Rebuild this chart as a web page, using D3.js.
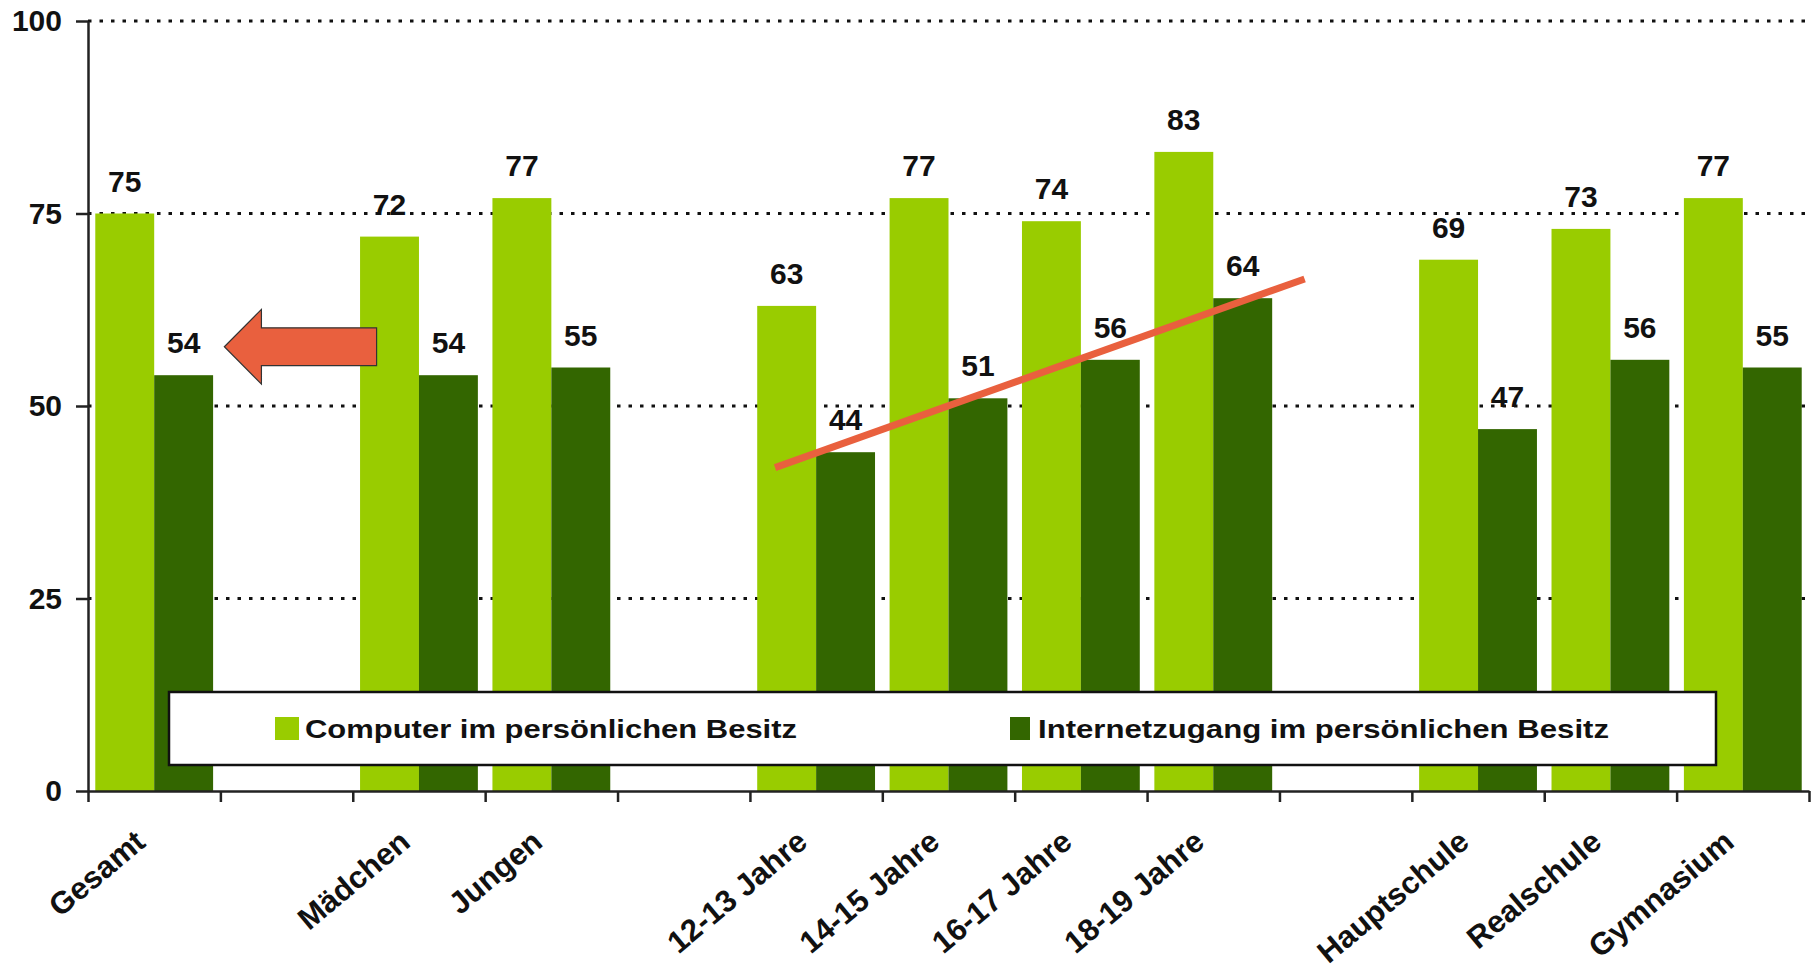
<!DOCTYPE html>
<html>
<head>
<meta charset="utf-8">
<script src="https://cdn.jsdelivr.net/npm/d3@7"></script>
<style>
  body { margin: 0; background: #fff; }
  text { font-family: "Liberation Sans", Arial, sans-serif; font-weight: bold; fill: #111; }
</style>
</head>
<body>
<div id="chart"></div>
<script>
var categories = ["Gesamt", "Mädchen", "Jungen", "12-13 Jahre", "14-15 Jahre", "16-17 Jahre", "18-19 Jahre", "Hauptschule", "Realschule", "Gymnasium"]
var computer = [75, 72, 77, 63, 77, 74, 83, 69, 73, 77]
var internet = [54, 54, 55, 44, 51, 56, 64, 47, 56, 55]
// slot order along the x axis, gaps between the groups
var slots = ["Gesamt", "gap1", "Mädchen", "Jungen", "gap2", "12-13 Jahre", "14-15 Jahre", "16-17 Jahre", "18-19 Jahre", "gap3", "Hauptschule", "Realschule", "Gymnasium"]
var yTicks = [0, 25, 50, 75, 100]
var seriesNames = ["Computer im persönlichen Besitz", "Internetzugang im persönlichen Besitz"]

// annotations, in slot / value units
var trendLine = [[5.19, 42], [9.19, 66.5]]
var arrow = { tip: 1.03, headBase: 1.31, tail: 2.18, mid: 57.7, shaftHalf: 2.45, headHalf: 4.85 }

var W = 1815, H = 972
var plotLeft = 88, plotRight = 1809, plotTop = 21, plotBottom = 791

var svg = d3.select("#chart")
    .append("svg")
        .attr("width", W)
        .attr("height", H)

var y = d3.scaleLinear()
    .domain([0, 100])
    .range([plotBottom, plotTop])

var x0 = d3.scaleBand()
    .domain(slots)
    .range([plotLeft, plotRight])
    .paddingInner(0.11)
    .paddingOuter(0.055)

var x1 = d3.scaleBand()
    .domain(["computer", "internet"])
    .range([0, x0.bandwidth()])

var xs = d3.scaleLinear()
    .domain([0, slots.length])
    .range([plotLeft, plotRight])

var color = d3.scaleOrdinal()
    .domain(["computer", "internet"])
    .range(["#99CC00", "#336600"])

// dotted grid
svg.append("g")
    .selectAll("line")
    .data(yTicks.filter(function(d) { return d > 0 }))
    .join("line")
        .attr("x1", plotLeft)
        .attr("x2", plotRight)
        .attr("y1", function(d) { return y(d) })
        .attr("y2", function(d) { return y(d) })
        .attr("stroke", "#111")
        .attr("stroke-width", 3)
        .attr("stroke-dasharray", "3.5,8")

var rows = categories.map(function(c, i) {
    return { cat: c, computer: computer[i], internet: internet[i] }
})

var groups = svg.append("g")
    .selectAll("g")
    .data(rows)
    .join("g")
        .attr("transform", function(d) { return "translate(" + x0(d.cat) + ",0)" })

groups.selectAll("rect")
    .data(function(d) { return [{ key: "computer", v: d.computer }, { key: "internet", v: d.internet }] })
    .join("rect")
        .attr("x", function(d) { return x1(d.key) })
        .attr("y", function(d) { return y(d.v) })
        .attr("width", x1.bandwidth())
        .attr("height", function(d) { return y(0) - y(d.v) })
        .attr("fill", function(d) { return color(d.key) })

groups.selectAll("text")
    .data(function(d) { return [{ key: "computer", v: d.computer }, { key: "internet", v: d.internet }] })
    .join("text")
        .attr("x", function(d) { return x1(d.key) + x1.bandwidth() / 2 })
        .attr("y", function(d) { return y(d.v) - 22 })
        .attr("text-anchor", "middle")
        .style("font-size", "30px")
        .text(function(d) { return d.v })

// y axis
var yAxis = svg.append("g")
    .attr("transform", "translate(" + plotLeft + ",0)")
    .call(d3.axisLeft(y).tickValues(yTicks).tickSize(12).tickSizeOuter(0).tickPadding(14))
yAxis.select(".domain").attr("stroke", "#222").attr("stroke-width", 2.5)
yAxis.selectAll(".tick line").attr("stroke", "#222").attr("stroke-width", 2.5)
yAxis.selectAll(".tick text")
    .attr("fill", "#111")
    .style("font-size", "30px")
    .style("font-family", "'Liberation Sans', Arial, sans-serif")
    .style("font-weight", "bold")

// x axis: ticks at slot boundaries
var xAxis = svg.append("g")
    .attr("transform", "translate(0," + plotBottom + ")")
    .call(d3.axisBottom(xs).tickValues(d3.range(slots.length + 1)).tickSize(11).tickSizeOuter(0).tickFormat(""))
xAxis.select(".domain").attr("stroke", "#222").attr("stroke-width", 2.5)
xAxis.selectAll(".tick line").attr("stroke", "#222").attr("stroke-width", 2.5)

svg.append("g")
    .selectAll("text")
    .data(categories)
    .join("text")
        .attr("transform", function(d) {
            return "translate(" + (x0(d) + x0.bandwidth() / 2 - 7) + "," + (plotBottom + 54) + ") rotate(-40)"
        })
        .attr("text-anchor", "end")
        .style("font-size", "31px")
        .text(function(d) { return d })

// legend
var legend = svg.append("g")
legend.append("rect")
    .attr("x", 169)
    .attr("y", 692)
    .attr("width", 1547)
    .attr("height", 73)
    .attr("fill", "#fff")
    .attr("stroke", "#111")
    .attr("stroke-width", 2.5)

var legendItems = [
    { key: "computer", name: seriesNames[0], x: 275, tx: 305, len: 492 },
    { key: "internet", name: seriesNames[1], x: 1010, tx: 1038, len: 571 }
]
legend.selectAll(".sw")
    .data(legendItems)
    .join("rect")
        .attr("class", "sw")
        .attr("x", function(d) { return d.x })
        .attr("y", 717)
        .attr("width", function(d) { return d.key === "computer" ? 24 : 20 })
        .attr("height", 23)
        .attr("fill", function(d) { return color(d.key) })
legend.selectAll("text")
    .data(legendItems)
    .join("text")
        .attr("x", function(d) { return d.tx })
        .attr("y", 738)
        .attr("textLength", function(d) { return d.len })
        .attr("lengthAdjust", "spacingAndGlyphs")
        .style("font-size", "26px")
        .text(function(d) { return d.name })

// red trend line
svg.append("line")
    .attr("x1", xs(trendLine[0][0]))
    .attr("y1", y(trendLine[0][1]))
    .attr("x2", xs(trendLine[1][0]))
    .attr("y2", y(trendLine[1][1]))
    .attr("stroke", "#E9603E")
    .attr("stroke-width", 7)

// red arrow pointing to Gesamt
var arrowPts = [
    [xs(arrow.tip), y(arrow.mid)],
    [xs(arrow.headBase), y(arrow.mid + arrow.headHalf)],
    [xs(arrow.headBase), y(arrow.mid + arrow.shaftHalf)],
    [xs(arrow.tail), y(arrow.mid + arrow.shaftHalf)],
    [xs(arrow.tail), y(arrow.mid - arrow.shaftHalf)],
    [xs(arrow.headBase), y(arrow.mid - arrow.shaftHalf)],
    [xs(arrow.headBase), y(arrow.mid - arrow.headHalf)]
]
svg.append("path")
    .attr("d", d3.line()(arrowPts) + "Z")
    .attr("fill", "#E9603E")
    .attr("stroke", "#333")
    .attr("stroke-width", 1.2)
</script>
</body>
</html>
